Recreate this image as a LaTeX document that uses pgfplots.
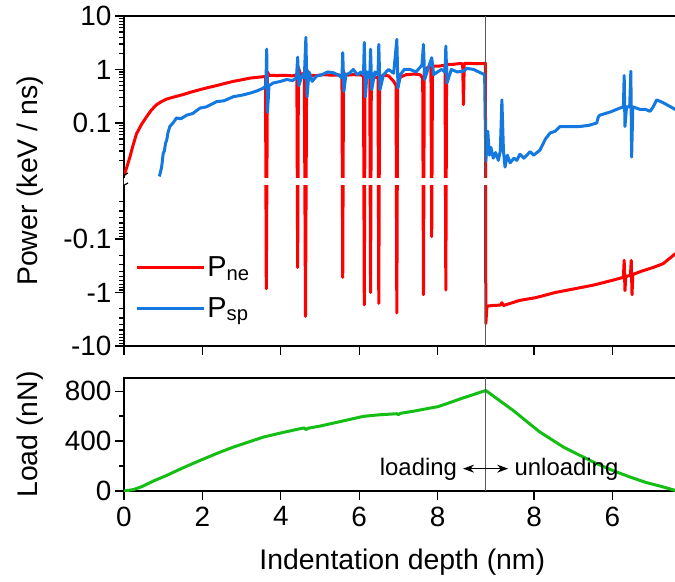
\documentclass[border=0pt]{standalone}
\usepackage{fontspec}
\setmainfont{Liberation Sans}
\usepackage{pgfplots}
\usepackage{pgfplotstable}
\pgfplotsset{compat=1.18}
\usetikzlibrary{arrows.meta}
\definecolor{pred}{RGB}{255,0,0}
\definecolor{pblue}{RGB}{20,120,225}
\definecolor{pgreen}{RGB}{20,190,20}

% t = position along the measurement (loading 0..9.23 nm, then unloading back: depth = 18.46 - t)
\pgfplotstableread{
t P
0 0.0105
0.06 0.014
0.15 0.023
0.23 0.038
0.32 0.063
0.45 0.095
0.58 0.132
0.70 0.175
0.83 0.219
0.95 0.25
1.09 0.28
1.30 0.31
1.51 0.34
1.72 0.38
1.94 0.42
2.15 0.46
2.36 0.50
2.58 0.55
2.79 0.60
3.00 0.64
3.21 0.69
3.45 0.72
3.61 0.74
3.63 -0.85
3.66 0.9
3.70 0.78
3.90 0.77
4.10 0.78
4.30 0.76
4.41 0.8
4.43 -0.34
4.45 1.1
4.50 0.8
4.60 0.85
4.63 -2.8
4.66 1.0
4.72 0.78
4.90 0.77
5.10 0.80
5.30 0.78
5.50 0.79
5.56 0.75
5.58 -0.52
5.60 0.9
5.65 0.78
5.85 0.80
6.05 0.79
6.11 0.75
6.13 -1.7
6.15 0.9
6.27 0.8
6.29 -1.0
6.31 0.85
6.40 0.72
6.48 0.7
6.50 -1.6
6.52 0.6
6.60 0.78
6.75 0.76
6.88 0.6
6.94 0.5
6.96 -2.4
6.98 0.5
7.05 0.72
7.20 0.80
7.40 0.82
7.55 0.8
7.62 0.7
7.64 -1.1
7.66 0.9
7.75 1.1
7.83 1.1
7.85 -0.09
7.87 1.15
8.00 1.15
8.19 1.2
8.21 -0.9
8.23 1.25
8.40 1.25
8.60 1.3
8.64 1.25
8.66 0.22
8.68 1.3
8.80 1.3
9.00 1.28
9.22 1.3
9.23 -3.8
9.26 -1.8
9.40 -1.75
9.60 -1.72
9.64 -1.55
9.68 -1.75
10.1 -1.4
10.5 -1.25
11.0 -1.0
11.5 -0.85
12.0 -0.72
12.5 -0.58
12.74 -0.52
12.76 -0.25
12.78 -0.92
12.80 -0.5
12.92 -0.48
12.94 -0.25
12.96 -1.1
12.98 -0.46
13.2 -0.40
13.5 -0.34
13.75 -0.29
14.06 -0.19
14.3 -0.15
}\redtab

\pgfplotstableread{
t P
0.90 0.010
0.93 0.012
0.96 0.015
0.98 0.020
1.00 0.027
1.03 0.030
1.06 0.042
1.09 0.048
1.12 0.065
1.17 0.086
1.25 0.10
1.34 0.124
1.45 0.12
1.60 0.14
1.75 0.15
1.94 0.19
2.10 0.20
2.36 0.25
2.55 0.26
2.79 0.31
3.00 0.33
3.21 0.36
3.40 0.40
3.56 0.45
3.62 0.5
3.64 2.4
3.66 0.16
3.70 0.5
3.81 0.56
4.00 0.60
4.15 0.65
4.30 0.62
4.40 0.7
4.43 1.7
4.46 0.5
4.55 0.8
4.60 0.7
4.64 4.0
4.67 0.31
4.72 0.9
4.80 0.6
4.91 0.75
5.05 0.8
5.20 0.9
5.34 0.87
5.45 0.8
5.56 0.7
5.58 2.06
5.61 0.39
5.66 0.8
5.75 0.85
5.85 1.0
5.95 0.8
6.05 0.9
6.11 0.8
6.13 3.2
6.16 0.31
6.20 0.9
6.27 0.7
6.29 2.4
6.32 0.42
6.40 0.9
6.48 0.8
6.50 2.95
6.53 0.42
6.62 0.8
6.75 1.0
6.88 0.85
6.96 3.66
6.99 0.45
7.05 0.8
7.15 1.0
7.30 1.0
7.45 0.9
7.60 1.2
7.64 2.95
7.67 0.65
7.75 1.0
7.85 1.66
7.90 0.8
8.00 0.9
8.10 1.0
8.19 0.9
8.21 2.75
8.24 0.56
8.35 1.0
8.50 0.9
8.66 0.93
8.75 1.05
8.92 1.0
9.05 0.9
9.20 0.8
9.23 0.019
9.28 0.07
9.32 0.025
9.36 0.035
9.42 0.022
9.48 0.028
9.55 0.02
9.60 0.03
9.64 0.27
9.68 0.03
9.72 0.015
9.78 0.025
9.85 0.018
9.95 0.022
10.02 0.02
10.10 0.026
10.20 0.022
10.36 0.029
10.45 0.025
10.61 0.031
10.75 0.05
10.87 0.065
11.00 0.07
11.12 0.086
11.40 0.085
11.63 0.086
11.85 0.09
12.06 0.10
12.10 0.13
12.14 0.14
12.40 0.16
12.65 0.19
12.74 0.2
12.76 0.77
12.78 0.086
12.82 0.2
12.90 0.2
12.93 0.93
12.95 0.023
12.98 0.2
13.16 0.18
13.30 0.18
13.42 0.165
13.50 0.2
13.59 0.27
13.75 0.24
14.06 0.18
14.30 0.16
}\bluetab

\pgfplotstableread{
t L
0 0
0.25 12
0.49 40
0.75 80
1.09 125
1.50 185
1.94 245
2.40 305
2.79 352
3.20 395
3.56 432
4.00 465
4.49 499
4.60 505
4.64 492
4.70 503
5.00 520
5.50 555
6.11 598
6.50 610
6.96 619
7.00 612
7.05 622
7.40 640
7.72 659
8.00 675
8.23 699
8.60 740
9.23 805
9.60 720
9.93 645
10.30 550
10.61 472
11.21 352
11.60 290
12.06 219
12.50 160
12.91 112
13.30 70
13.76 32
14.06 5
14.30 0
}\loadtab

\pgfplotsset{
  common/.style={
    scale only axis, width=560bp,
    xmin=0, xmax=14.286,
    axis line style={line width=1.2bp},
    every tick/.style={black, line width=1.2bp},
    major tick length=9bp, minor tick length=4.5bp,
    tick align=outside, xtick pos=left, ytick pos=left,
    xtick={0,2,4,6,8,10.46,12.46},
    tick label style={font=\fontsize{28}{34}\selectfont},
    label style={font=\fontsize{28.5}{34}\selectfont},
    ylabel style={at={(axis description cs:-0.168,0.5)}, anchor=center},
  }
}

\begin{document}
\begin{tikzpicture}
\path[use as bounding box] (-124bp,-566bp) rectangle (551bp,16bp);
\begin{axis}[common, name=top, at={(0bp,0bp)}, anchor=north west,
  height=330bp, ymin=-3.17, ymax=3,
  y filter/.expression={((y>0)-(y<0))*(log10(abs(y))+2)-0.17*(y<0)},
  ytick={-3.17,-2.17,-1.17,1,2,3},
  yticklabels={-10,-1,-0.1,0.1,1,10},
  minor ytick={0.301,0.477,0.602,0.699,0.778,0.845,0.903,0.954,
    1.301,1.477,1.602,1.699,1.778,1.845,1.903,1.954,
    2.301,2.477,2.602,2.699,2.778,2.845,2.903,2.954,
    -0.471,-0.647,-0.772,-0.869,-0.948,-1.015,-1.073,-1.124,
    -1.471,-1.647,-1.772,-1.869,-1.948,-2.015,-2.073,-2.124,
    -2.471,-2.647,-2.772,-2.869,-2.948,-3.015,-3.073,-3.124},
  xticklabels={,,,,,,},
  ylabel={Power (keV / ns)},
  legend style={draw=none, fill=none, at={(0.02,0.076)}, anchor=south west,
    font=\fontsize{29}{34}\selectfont, row sep=15bp, inner sep=0pt},
  legend cell align=left,
  legend image code/.code={\draw[#1, line width=3bp] (0bp,0bp) -- (67bp,0bp);},
]
\addplot[pred, line width=3bp, line join=round] table[x=t,y=P]{\redtab};
\addlegendentry{P\textsubscript{ne}}
\addplot[pblue, line width=3bp, line join=round] table[x=t,y=P]{\bluetab};
\addlegendentry{P\textsubscript{sp}}
\draw[gray!70!black, line width=0.9bp] (rel axis cs:0.6461,0) -- (rel axis cs:0.6461,1);
\fill[white] (rel axis cs:-0.006,0.4894) rectangle (rel axis cs:1.01,0.5106);
\draw[line width=1.2bp] (rel axis cs:-0.0089,0.509) -- (rel axis cs:0.0071,0.5242);
\draw[line width=1.2bp] (rel axis cs:-0.0089,0.4788) -- (rel axis cs:0.0071,0.4939);
\end{axis}
\begin{axis}[common, name=bot, at={(0bp,-362bp)}, anchor=north west,
  height=113bp, ymin=0, ymax=905,
  ytick={0,400,800}, yticklabels={0,400,800},
  minor ytick={200,600},
  xticklabels={0,2,4,6,8,8,6},
  xticklabel style={yshift=-3bp},
  ylabel={Load (nN)},
  xlabel={Indentation depth (nm)},
  xlabel style={at={(axis description cs:0.497,-0.63)}, anchor=center},
]
\addplot[pgreen, line width=3bp, line join=round] table[x=t,y=L]{\loadtab};
\draw[gray!70!black, line width=0.9bp] (rel axis cs:0.6461,0) -- (rel axis cs:0.6461,1);
\node[anchor=base east, inner sep=0pt, font=\fontsize{24}{28}\selectfont] at (axis cs:8.5,126) {loading};
\node[anchor=base west, inner sep=0pt, font=\fontsize{24}{28}\selectfont] at (axis cs:9.96,126) {unloading};
\draw[{Stealth[length=11bp,width=8bp]}-{Stealth[length=11bp,width=8bp]}, line width=1.3bp] (axis cs:8.65,179) -- (axis cs:9.80,179);
\end{axis}
\end{tikzpicture}
\end{document}
